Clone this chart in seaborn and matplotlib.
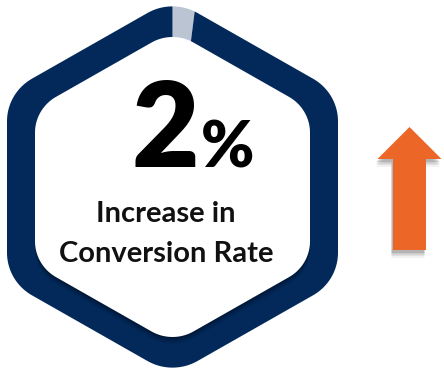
import numpy as np
import matplotlib
matplotlib.use("Agg")
import matplotlib.pyplot as plt
from matplotlib.path import Path
from matplotlib.patches import PathPatch, FancyArrow
import seaborn as sns

# ---- data ----
categories = ["Increase", "Remainder"]
values = [2, 98]
value_text = "2"
unit_text = "%"
caption_lines = ["Increase in", "Conversion Rate"]

colors = ["#BAC4D3", "#02295A"]
arrow_color = "#EB6627"

sns.set_theme(style="white")
plt.rcParams['font.family'] = ['Lato', 'DejaVu Sans']

W, H = 444, 368
fig = plt.figure(figsize=(W / 100, H / 100), dpi=100)
ax = fig.add_axes([0, 0, 1, 1])


def Y(ypx):
    return H - ypx


cx, cy = 172.5, Y(187)
SY = 0.985


def rounded_hex(cx, cy, apothem, r, sy=1.0, n=24, dy=0.0, dx=0.0):
    R = apothem / np.cos(np.radians(30))
    d = R - r / np.sin(np.radians(60))
    pts = []
    for i in range(6):
        va = np.radians(90 + 60 * i)
        acx = d * np.cos(va)
        acy = d * np.sin(va)
        for t in np.linspace(va - np.radians(30), va + np.radians(30), n):
            pts.append((acx + r * np.cos(t), acy + r * np.sin(t)))
    pts = np.array(pts)
    pts[:, 0] = cx + pts[:, 0] + dx
    pts[:, 1] = cy + pts[:, 1] * sy + dy
    pts = np.vstack([pts, pts[:1]])
    codes = [Path.MOVETO] + [Path.LINETO] * (len(pts) - 2) + [Path.CLOSEPOLY]
    return Path(pts, codes)


# pie wedges clipped to outer rounded hexagon
wedges, _ = ax.pie(values, colors=colors, startangle=90, counterclock=False,
                   center=(cx, cy), radius=260,
                   wedgeprops=dict(linewidth=0, edgecolor="none"))
outer_path = rounded_hex(cx, cy, 165.5, 50, SY)
for w in wedges:
    w.set_clip_on(True)
    w.set_clip_path(outer_path, ax.transData)

# shadow of inner hexagon
for k, a in zip([7, 5.5, 4, 2.5, 1.2], [0.05, 0.07, 0.09, 0.11, 0.13]):
    ax.add_patch(PathPatch(rounded_hex(cx, cy, 137.5, 42, SY, dy=-k),
                           facecolor="black", edgecolor="none", alpha=a, zorder=3))
ax.add_patch(PathPatch(rounded_hex(cx, cy, 137.5, 42, SY),
                       facecolor="white", edgecolor="none", zorder=4))

# text
ax.text(131, Y(167), value_text, fontsize=84, fontweight="heavy", color="black",
        ha="left", va="baseline", zorder=5)
ax.text(201, Y(167), unit_text, fontsize=46, fontweight="heavy", color="black",
        ha="left", va="baseline", zorder=5)
ax.text(166, Y(222), caption_lines[0], fontsize=21, fontweight="bold", color="#111111",
        ha="center", va="baseline", zorder=5)
ax.text(166.5, Y(262), caption_lines[1], fontsize=21, fontweight="bold", color="#111111",
        ha="center", va="baseline", zorder=5)

# arrow with soft shadow
ax_x, base_y, tip_y = 409.5, Y(250), Y(127)
for k, a in zip([8, 6, 4.5, 3], [0.05, 0.07, 0.09, 0.11]):
    ax.add_patch(FancyArrow(ax_x - 1.5, base_y - k, 0, tip_y - base_y, width=33,
                            head_width=64, head_length=32, length_includes_head=True,
                            facecolor="black", edgecolor="none", alpha=a, zorder=2))
ax.add_patch(FancyArrow(ax_x, base_y, 0, tip_y - base_y, width=33,
                        head_width=64, head_length=32, length_includes_head=True,
                        facecolor=arrow_color, edgecolor="none", zorder=3))

ax.set_xlim(0, W)
ax.set_ylim(0, H)
ax.set_aspect("auto")
ax.axis("off")
fig.savefig("out.png", dpi=100, facecolor="white")
